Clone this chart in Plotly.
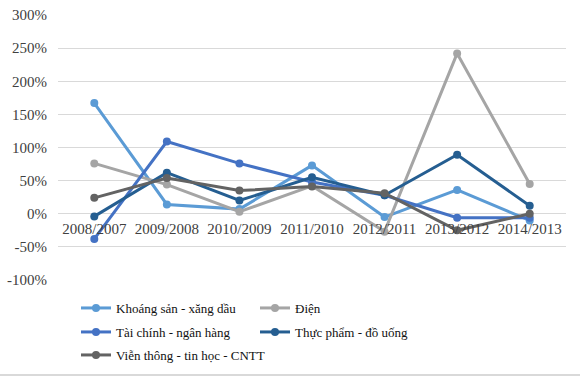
import plotly.graph_objects as go

categories = ["2008/2007", "2009/2008", "2010/2009", "2011/2010", "2012/2011", "2013/2012", "2014/2013"]
khoang_san = [1.67, 0.14, 0.07, 0.73, -0.05, 0.36, -0.10]
dien = [0.76, 0.44, 0.03, 0.42, -0.27, 2.42, 0.45]
tai_chinh = [-0.38, 1.09, 0.76, 0.48, 0.28, -0.06, -0.06]
thuc_pham = [-0.04, 0.62, 0.20, 0.55, 0.28, 0.89, 0.12]
vien_thong = [0.24, 0.54, 0.35, 0.41, 0.31, -0.25, 0.00]
y_ticks = [-1.0, -0.5, 0.0, 0.5, 1.0, 1.5, 2.0, 2.5, 3.0]
y_tick_labels = ["-100%", "-50%", "0%", "50%", "100%", "150%", "200%", "250%", "300%"]

series = [
    ("Khoáng sản - xăng dầu", khoang_san, "#5B9BD5", "legend"),
    ("Điện", dien, "#A5A5A5", "legend"),
    ("Tài chính - ngân hàng", tai_chinh, "#4472C4", "legend2"),
    ("Thực phẩm - đồ uống", thuc_pham, "#255E91", "legend2"),
    ("Viễn thông - tin học - CNTT", vien_thong, "#636363", "legend3"),
]

fig = go.Figure()
for name, vals, color, lg in series:
    fig.add_trace(go.Scatter(
        x=categories, y=vals, name=name, mode="lines+markers",
        line=dict(color=color, width=3),
        marker=dict(color=color, size=8),
        legend=lg,
    ))

FAM = "Liberation Serif"
tick_font = dict(family=FAM, size=15, color="#404040")
leg_font = dict(family=FAM, size=13, color="#111111")

W, H = 580, 377
L, R, T = 58, 14, 15
PW, PH = W - L - R, H - T
plot_bottom_px = 280
dom0 = (H - plot_bottom_px) / PH


def legend_at(row_y_px, ew):
    return dict(
        orientation="h", x=(76 - L) / PW, y=(H - row_y_px) / PH,
        xanchor="left", yanchor="middle",
        entrywidth=ew, entrywidthmode="pixels",
        font=leg_font, itemwidth=30, bgcolor="rgba(0,0,0,0)",
    )


fig.update_layout(
    width=W, height=H,
    margin=dict(l=L, r=R, t=T, b=0, autoexpand=False),
    paper_bgcolor="white", plot_bgcolor="white",
    font=dict(family=FAM, size=14, color="#404040"),
    showlegend=True,
    legend=legend_at(308, 134),
    legend2=legend_at(332, 134),
    legend3=legend_at(355, 260),
    xaxis=dict(
        type="category", anchor="free", position=dom0 + 0.25 * (1 - dom0),
        range=[-0.5, len(categories) - 0.5],
        showgrid=False, showline=False, ticks="", automargin=False,
        ticklabelstandoff=4,
        tickfont=tick_font,
    ),
    yaxis=dict(
        domain=[dom0, 1],
        range=[-1, 3], tickvals=y_ticks, ticktext=y_tick_labels,
        showgrid=True, gridcolor="#D9D9D9", gridwidth=1,
        zeroline=False, showline=False, ticks="", automargin=False,
        ticklabelstandoff=10,
        tickfont=tick_font,
    ),
)
fig.add_shape(type="line", xref="paper", yref="paper",
              x0=-L / PW, x1=1 + R / PW,
              y0=(H - 375) / PH, y1=(H - 375) / PH,
              line=dict(color="#D9D9D9", width=2))

fig.write_html("out.html", config={"displayModeBar": False},
               post_script="document.body.style.margin='0';")
